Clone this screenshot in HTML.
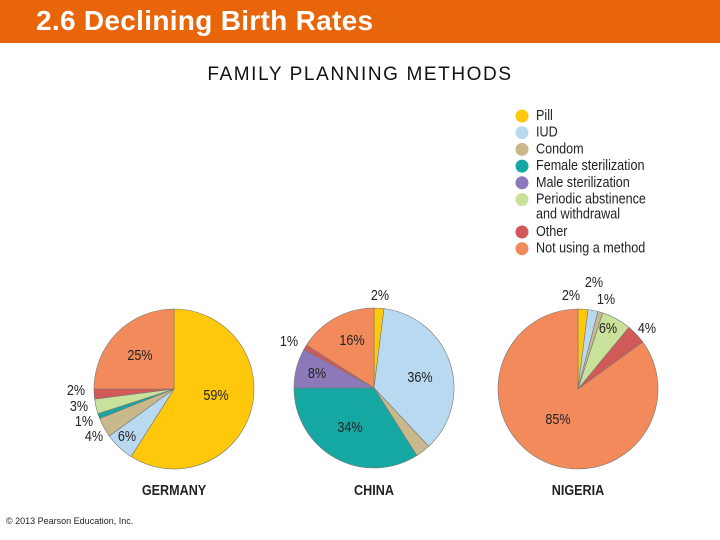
<!DOCTYPE html>
<html><head><meta charset="utf-8"><style>
body{margin:0;width:720px;height:540px;background:#fff;position:relative;overflow:hidden;font-family:"Liberation Sans",sans-serif}
#hdr{position:absolute;left:0;top:0;width:720px;height:43px;background:#E8650A}
#hdr span{position:absolute;left:36px;top:5px;color:#fff;font-weight:bold;font-size:28px;letter-spacing:0.3px}
#sub{position:absolute;left:0;width:720px;top:64px;text-align:center;font-size:19px;letter-spacing:1.6px;color:#111}
#copy{position:absolute;left:6px;top:516px;font-size:9px;color:#222}
svg{position:absolute;left:0;top:0}
text{font-family:"Liberation Sans",sans-serif}
</style></head><body>
<div id="hdr"><span>2.6 Declining Birth Rates</span></div>
<div id="sub">FAMILY PLANNING METHODS</div>
<div id="copy">© 2013 Pearson Education, Inc.</div>
<svg id="chart" width="720" height="540"></svg>
<script>
const categories=["Pill","IUD","Condom","Female sterilization","Male sterilization","Periodic abstinence\nand withdrawal","Other","Not using a method"];
const colors=["#FFC80A","#B9D9F1","#C9B88C","#15A8A2","#8B79B9","#C9E19B","#D15A58","#F28A5B"];
const countries=["GERMANY","CHINA","NIGERIA"];
const germany=[59,6,4,1,0,3,2,25];
const china=[2,36,3,34,8,0,1,16];
const nigeria=[2,2,1,0,0,6,4,85];
const series=[germany,china,nigeria];
const centers=[[174,389],[374,388],[578,389]];
const R=80;
const SX=0.84;
// label placements [x,y] per slice (null = none)
const labelPos=[
 [[216,396],[127,437],[94,437],[84,422],null,[79,407],[76,391],[140,356]],
 [[380,296],[420,378],null,[350,428],[317,374],null,[289,342],[352,341]],
 [[571,296],[594,283],[606,300],null,null,[608,329],[647,329],[558,420]]];
const NS="http://www.w3.org/2000/svg";
const svg=document.getElementById('chart');
function mk(t,a){const e=document.createElementNS(NS,t);for(const k in a)e.setAttribute(k,a[k]);svg.appendChild(e);return e;}
function txt(x,y,s,anchor,weight){return mk('text',{x:0,y:0,transform:`translate(${x},${y}) scale(${SX},1)`,'font-size':s,'font-weight':weight||'normal',fill:'#222','text-anchor':anchor,'dominant-baseline':'middle'});}
function pt(c,frac){const a=frac*2*Math.PI-Math.PI/2;return [c[0]+R*Math.cos(a),c[1]+R*Math.sin(a)];}
series.forEach((vals,si)=>{
 const c=centers[si];const tot=vals.reduce((a,b)=>a+b,0);let acc=0;
 vals.forEach((v,i)=>{
  if(v<=0)return;
  const f0=acc/tot,f1=(acc+v)/tot;acc+=v;
  const p0=pt(c,f0),p1=pt(c,f1);const large=(f1-f0)>0.5?1:0;
  const p=mk('path',{d:`M${c[0]},${c[1]}L${p0[0]},${p0[1]}A${R},${R} 0 ${large} 1 ${p1[0]},${p1[1]}Z`,fill:colors[i],stroke:'#777','stroke-width':0.6});
  
  
  const lp=labelPos[si][i];
  if(lp){const t=txt(lp[0],lp[1],15,'middle');t.textContent=v+'%';
   
   }
 });
 const t=txt(c[0],491,15,'middle','bold');t.textContent=countries[si];
 
 
});
let ly=116;
categories.forEach((cat,i)=>{
 const g=mk('circle',{cx:522,cy:ly,r:6.5,fill:colors[i]});
 
 
 cat.split('\n').forEach((ln,j)=>{
  const t=txt(536,ly+j*15,15,'start');t.textContent=ln;
  
  
 });
 ly+=cat.includes('\n')?32.5:16.7;
});
</script>
</body></html>
